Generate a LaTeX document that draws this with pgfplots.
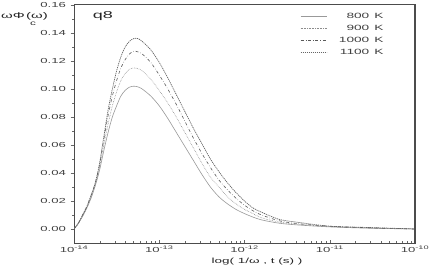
\documentclass[border=0pt]{standalone}
\usepackage{fontspec}
\setmainfont{Liberation Sans}[FakeStretch=1.8]
\usepackage{pgfplots}
\usepackage{pgfplotstable}
\pgfplotsset{compat=1.18}

\pgfplotstableread{
lx y
-14.00 0.000
-13.95 0.004
-13.90 0.009
-13.85 0.015
-13.80 0.022
-13.75 0.031
-13.70 0.042
-13.65 0.056
-13.60 0.069
-13.55 0.080
-13.50 0.088
-13.45 0.095
-13.40 0.099
-13.35 0.1013
-13.30 0.102
-13.25 0.1015
-13.20 0.100
-13.10 0.095
-13.00 0.088
-12.90 0.079
-12.80 0.069
-12.70 0.059
-12.60 0.049
-12.50 0.039
-12.40 0.030
-12.30 0.023
-12.20 0.018
-12.10 0.014
-12.00 0.011
-11.90 0.0085
-11.80 0.0065
-11.60 0.0042
-11.40 0.003
-11.00 0.0015
-10.50 0.0005
-10.00 0.000
}\Teight

\pgfplotstableread{
lx y
-14.00 0.000
-13.95 0.004
-13.90 0.009
-13.85 0.015
-13.80 0.023
-13.75 0.032
-13.70 0.044
-13.65 0.060
-13.60 0.075
-13.55 0.088
-13.50 0.098
-13.45 0.106
-13.40 0.111
-13.35 0.114
-13.30 0.115
-13.25 0.1145
-13.20 0.113
-13.10 0.107
-13.00 0.099
-12.90 0.090
-12.80 0.080
-12.70 0.069
-12.60 0.058
-12.50 0.047
-12.40 0.037
-12.30 0.030
-12.20 0.023
-12.10 0.018
-12.00 0.014
-11.90 0.011
-11.80 0.008
-11.60 0.005
-11.40 0.0035
-11.00 0.0018
-10.50 0.0007
-10.00 0.000
}\Tnine

\pgfplotstableread{
lx y
-14.00 0.000
-13.95 0.004
-13.90 0.010
-13.85 0.016
-13.80 0.024
-13.75 0.033
-13.70 0.046
-13.65 0.064
-13.60 0.081
-13.55 0.095
-13.50 0.106
-13.45 0.115
-13.40 0.121
-13.35 0.125
-13.30 0.127
-13.25 0.1265
-13.20 0.125
-13.10 0.119
-13.00 0.110
-12.90 0.100
-12.80 0.089
-12.70 0.077
-12.60 0.065
-12.50 0.054
-12.40 0.044
-12.30 0.035
-12.20 0.028
-12.10 0.022
-12.00 0.017
-11.90 0.013
-11.80 0.010
-11.60 0.006
-11.40 0.004
-11.00 0.002
-10.50 0.0008
-10.00 0.000
}\Tten

\pgfplotstableread{
lx y
-14.00 0.000
-13.95 0.004
-13.90 0.010
-13.85 0.016
-13.80 0.024
-13.75 0.033
-13.70 0.047
-13.65 0.066
-13.60 0.085
-13.55 0.100
-13.50 0.113
-13.45 0.123
-13.40 0.130
-13.35 0.134
-13.30 0.136
-13.25 0.136
-13.20 0.134
-13.10 0.128
-13.00 0.119
-12.90 0.108
-12.80 0.096
-12.70 0.084
-12.60 0.072
-12.50 0.061
-12.40 0.050
-12.30 0.041
-12.20 0.033
-12.10 0.026
-12.00 0.020
-11.90 0.015
-11.80 0.012
-11.60 0.007
-11.40 0.005
-11.00 0.002
-10.50 0.001
-10.00 0.000
}\Televen

\begin{document}
\begin{tikzpicture}
\useasboundingbox (0,0) rectangle (436pt,273pt);
\begin{axis}[
  at={(74pt,30pt)}, anchor=south west,
  scale only axis, width=341pt, height=238pt,
  xmin=-14, xmax=-10, ymin=-0.010, ymax=0.16,
  xtick={-14,-13,-12,-11,-10},
  xticklabels={10\textsuperscript{-14},10\textsuperscript{-13},10\textsuperscript{-12},10\textsuperscript{-11},10\textsuperscript{-10}},
  minor xtick={-13.699,-13.523,-13.398,-13.301,-13.222,-13.155,-13.097,-13.046,
               -12.699,-12.523,-12.398,-12.301,-12.222,-12.155,-12.097,-12.046,
               -11.699,-11.523,-11.398,-11.301,-11.222,-11.155,-11.097,-11.046,
               -10.699,-10.523,-10.398,-10.301,-10.222,-10.155,-10.097,-10.046},
  ytick={0,0.02,0.04,0.06,0.08,0.10,0.12,0.14,0.16},
  minor y tick num=1,
  yticklabel style={/pgf/number format/fixed,/pgf/number format/fixed zerofill,/pgf/number format/precision=2},
  /pgf/number format/assume math mode=true,
  tick label style={font=\fontsize{7.3}{8}\selectfont, black!75},
  xticklabel style={yshift=1pt},
  yticklabel style={xshift=-1pt},
  xtick pos=bottom, ytick pos=left,
  major tick length=3.5pt, minor tick length=1.8pt,
  x tick style={black!60},
  y tick style={black!60},
  ytick align=outside, xtick align=inside,
  axis line style={black!70, line width=1pt},
  legend style={draw=none, fill=none, at={(0.923,0.985)}, anchor=north east,
    font=\fontsize{7.6}{8}\selectfont, row sep=1.2pt, text=black!75},
  legend cell align=right,
  legend image code/.code={\draw[#1] (0pt,0pt) -- (26pt,0pt); \path (36pt,0pt);},
]
\addplot[smooth, black!40, line width=0.6pt] table[x=lx,y=y] {\Teight};
\addlegendentry{800\ \,K}
\addplot[smooth, black!45, densely dotted, line width=0.6pt] table[x=lx,y=y] {\Tnine};
\addlegendentry{900\ \,K}
\addplot[smooth, black!65, dash dot, line width=0.6pt] table[x=lx,y=y] {\Tten};
\addlegendentry{1000\ \,K}
\addplot[smooth, black!60, dash pattern=on 1.2pt off 0.8pt, line width=0.7pt] table[x=lx,y=y] {\Televen};
\addlegendentry{1100\ \,K}
\node[anchor=west, font=\fontsize{10}{11}\selectfont, text=black!85] at (rel axis cs:0.045,0.955) {q8};
\draw[black!70, line width=2.5pt] (rel axis cs:1,0) -- (rel axis cs:1,1);
\end{axis}
\node[anchor=west, font=\fontsize{8.3}{9}\selectfont, text=black!85, inner sep=0pt] at (1pt,257pt) {ωΦ\,(ω)};
\node[font=\fontsize{6.5}{7}\selectfont, text=black!85, inner sep=0pt] at (33pt,249pt) {c};
\node[font=\fontsize{7.5}{8}\selectfont, text=black!85, inner sep=0pt] at (257pt,11pt) {log( 1/ω , t (s) )};
\end{tikzpicture}
\end{document}
